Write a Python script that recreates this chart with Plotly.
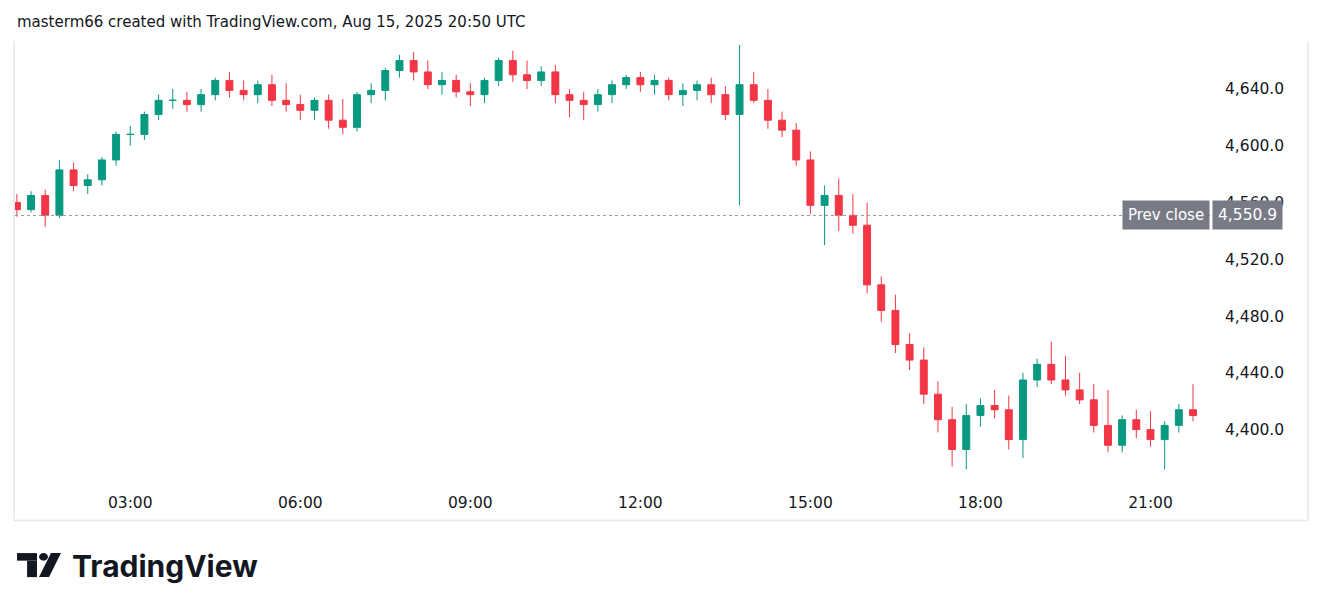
import pandas as pd
import plotly.graph_objects as go

# ====================================================
# DATA (15-minute bars)
# ====================================================
times = pd.date_range("2025-08-15 01:00", "2025-08-15 21:45", freq="15min")

opens = [4560, 4555, 4565, 4551, 4583, 4572, 4576, 4590, 4608, 4608, 4622, 4632,
         4632, 4629, 4636, 4646, 4639, 4636, 4643, 4632, 4629, 4625, 4632, 4618,
         4613, 4636, 4639, 4653, 4660, 4652, 4643, 4646, 4638, 4636, 4646, 4660,
         4650, 4646, 4652, 4636, 4632, 4629, 4636, 4643, 4648, 4643, 4646, 4636,
         4639, 4643, 4636, 4622, 4643, 4632, 4618, 4611, 4590, 4558, 4565, 4551,
         4544, 4502, 4484, 4460, 4449, 4425, 4407, 4386, 4410, 4417, 4414, 4393,
         4435, 4446, 4435, 4428, 4421, 4403, 4389, 4407, 4400, 4393, 4403, 4414]
highs = [4566, 4568, 4569, 4590, 4588, 4580, 4592, 4610, 4614, 4624, 4636, 4640,
         4638, 4640, 4648, 4652, 4646, 4646, 4650, 4644, 4636, 4634, 4636, 4633,
         4638, 4644, 4655, 4664, 4666, 4660, 4652, 4650, 4644, 4648, 4662, 4667,
         4660, 4656, 4657, 4640, 4638, 4640, 4646, 4650, 4652, 4650, 4648, 4644,
         4646, 4648, 4642, 4671, 4652, 4640, 4624, 4616, 4596, 4572, 4577, 4566,
         4560, 4508, 4495, 4468, 4458, 4434, 4416, 4418, 4422, 4428, 4424, 4440,
         4450, 4462, 4452, 4440, 4432, 4428, 4410, 4414, 4413, 4406, 4418, 4432]
lows = [4550, 4553, 4543, 4549, 4568, 4566, 4572, 4586, 4600, 4604, 4618, 4626,
        4624, 4624, 4632, 4634, 4632, 4630, 4628, 4624, 4618, 4618, 4612, 4608,
        4610, 4630, 4632, 4648, 4646, 4640, 4636, 4634, 4628, 4630, 4642, 4645,
        4640, 4642, 4630, 4620, 4618, 4624, 4630, 4640, 4638, 4636, 4632, 4628,
        4632, 4630, 4618, 4558, 4630, 4612, 4606, 4586, 4552, 4530, 4540, 4538,
        4496, 4476, 4454, 4442, 4418, 4398, 4374, 4372, 4402, 4408, 4386, 4380,
        4430, 4432, 4424, 4418, 4398, 4384, 4384, 4394, 4388, 4372, 4398, 4406]
closes = [4555, 4565, 4551, 4583, 4572, 4576, 4590, 4608, 4608, 4622, 4632, 4632,
          4629, 4636, 4646, 4639, 4636, 4643, 4632, 4629, 4625, 4632, 4618, 4613,
          4636, 4639, 4653, 4660, 4652, 4643, 4646, 4638, 4636, 4646, 4660, 4650,
          4646, 4652, 4636, 4632, 4629, 4636, 4643, 4648, 4643, 4646, 4636, 4639,
          4643, 4636, 4622, 4643, 4632, 4618, 4611, 4590, 4558, 4565, 4551, 4544,
          4502, 4484, 4460, 4449, 4425, 4407, 4386, 4410, 4417, 4414, 4393, 4435,
          4446, 4435, 4428, 4421, 4403, 4389, 4407, 4400, 4393, 4403, 4414, 4410]

prev_close = 4550.9
y_ticks = [4400, 4440, 4480, 4520, 4560, 4600, 4640]
x_ticks = ["03:00", "06:00", "09:00", "12:00", "15:00", "18:00", "21:00"]

up_color = "#089981"
down_color = "#f23645"
frame_color = "#e6e8ee"

# ====================================================
# FIGURE
# ====================================================
fig = go.Figure()

fig.add_trace(go.Candlestick(
    x=times, open=opens, high=highs, low=lows, close=closes,
    increasing=dict(line=dict(color=up_color, width=1), fillcolor=up_color),
    decreasing=dict(line=dict(color=down_color, width=1), fillcolor=down_color),
    whiskerwidth=0, showlegend=False
))

fig.add_hline(y=prev_close, line=dict(color="#9598a1", width=1, dash="dot"))

# frame around chart + axes (paper coords)
fx0, fx1, fy0, fy1 = -0.0008, 1.0820, -0.080, 0.998
frame = [
    dict(type="line", xref="paper", yref="paper", x0=fx0, x1=fx1, y0=fy1, y1=fy1),
    dict(type="line", xref="paper", yref="paper", x0=fx0, x1=fx1, y0=fy0, y1=fy0),
    dict(type="line", xref="paper", yref="paper", x0=fx0, x1=fx0, y0=fy0, y1=fy1),
    dict(type="line", xref="paper", yref="paper", x0=fx1, x1=fx1, y0=fy0, y1=fy1),
]
for s in frame:
    s["line"] = dict(color=frame_color, width=1.5)

logo = [
    dict(type="rect", xref="paper", yref="paper", x0=0.0017, x1=0.0184, y0=-0.153, y1=-0.170,
         fillcolor="#131722", line_width=0),
    dict(type="rect", xref="paper", yref="paper", x0=0.0101, x1=0.0184, y0=-0.170, y1=-0.207,
         fillcolor="#131722", line_width=0),
    dict(type="circle", xref="paper", yref="paper", x0=0.0201, x1=0.0276, y0=-0.153, y1=-0.170,
         fillcolor="#131722", line_width=0),
    dict(type="path", xref="paper", yref="paper",
         path="M 0.0301 -0.153 L 0.0385 -0.153 L 0.0285 -0.207 L 0.0201 -0.207 Z",
         fillcolor="#131722", line_width=0),
]

fig.update_layout(
    width=1320, height=611,
    margin=dict(l=7, r=118, t=32, b=134, autoexpand=False),
    paper_bgcolor="white", plot_bgcolor="white",
    font=dict(family="DejaVu Sans, Verdana, sans-serif", color="#131722", size=15),
    xaxis=dict(
        range=["2025-08-15 00:58", "2025-08-15 22:03"],
        rangeslider=dict(visible=False),
        showgrid=False, zeroline=False,
        tickvals=[f"2025-08-15 {t}" for t in x_ticks], ticktext=x_ticks,
        ticks="", ticklabelstandoff=6, tickfont=dict(size=15.5),
    ),
    yaxis=dict(
        side="right", range=[4361, 4674.5],
        showgrid=False, zeroline=False,
        tickvals=y_ticks, ticktext=[f"{v:,.1f}" for v in y_ticks],
        ticks="", ticklabelstandoff=14, tickfont=dict(size=15.5),
    ),
    shapes=frame + logo,
    annotations=[
        dict(xref="paper", yref="paper", x=0.0, y=1.0404, xanchor="left", yanchor="middle",
             text="masterm66 created with TradingView.com, Aug 15, 2025 20:50 UTC",
             showarrow=False, font=dict(size=15)),
        dict(xref="paper", yref="paper", x=0.046, y=-0.182, xanchor="left", yanchor="middle",
             text="<b>TradingView</b>", showarrow=False,
             font=dict(family="Inter, Roboto, sans-serif", size=30)),
        dict(xref="paper", x=1.0, y=prev_close, yref="y", xanchor="right", yanchor="middle",
             text="Prev close", showarrow=False, bgcolor="#787b86",
             font=dict(color="white", size=15), borderpad=5),
        dict(xref="paper", x=1.0017, y=prev_close, yref="y", xanchor="left", yanchor="middle",
             text="4,550.9", showarrow=False, bgcolor="#787b86",
             font=dict(color="white", size=15.5), borderpad=5),
    ],
)

fig.write_html("out.html")
